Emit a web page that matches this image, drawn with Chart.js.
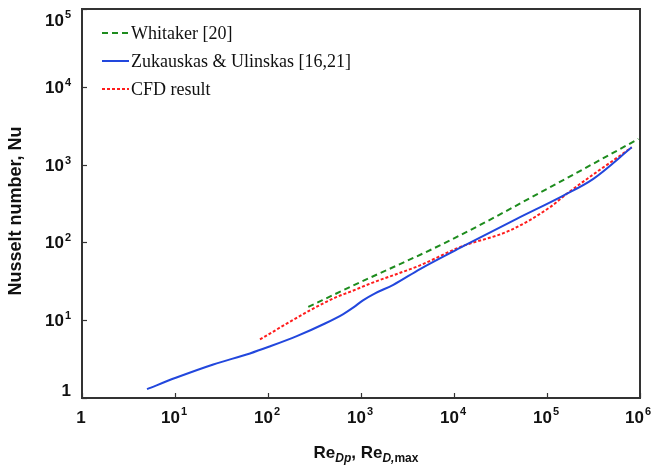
<!DOCTYPE html>
<html>
<head>
<meta charset="utf-8">
<script src="https://cdn.jsdelivr.net/npm/chart.js@4.4.1/dist/chart.umd.min.js"></script>
<style>
  body { margin: 0; background: #fff; }
  #wrap { width: 652px; height: 468px; }
</style>
</head>
<body>
<div id="wrap"><canvas id="nuChart"></canvas></div>
<script>
// values (log-log)
const whitakerRe = [271, 762, 9060, 108000, 960000];
const whitakerNu = [14.8, 26.7, 106, 512, 2135];

const zukRe = [5, 10.2, 25.8, 64, 102, 204, 410, 645, 830, 1050, 1400, 2225, 4310, 13700, 47200, 150000, 315000, 815000];
const zukNu = [1.3, 1.82, 2.7, 3.74, 4.55, 6.24, 9.07, 12.0, 14.6, 18.0, 22.0, 28.5, 45.5, 94.2, 201, 400, 656, 1667];

const cfdRe = [82, 283, 548, 762, 1250, 4310, 11600, 40000, 108000, 163000, 815000];
const cfdNu = [5.66, 13.4, 19.9, 23.1, 29.5, 50.7, 87.1, 142.6, 284, 421, 1667];

const seriesNames = ["Whitaker [20]", "Zukauskas & Ulinskas [16,21]", "CFD result"];

// tick labels: base and exponent ("" = plain "1")
const xTicks = [1, 10, 100, 1000, 10000, 100000, 1000000];
const xTickExp = ["", "1", "2", "3", "4", "5", "6"];
const yTicks = [1, 10, 100, 1000, 10000, 100000];
const yTickExp = ["", "1", "2", "3", "4", "5"];

const toPoints = (xs, ys) => xs.map((x, i) => ({ x: x, y: ys[i] }));

const bigFont = "bold 17px 'Liberation Sans', Arial, sans-serif";
const supFont = "bold 11px 'Liberation Sans', Arial, sans-serif";

function powerLabel(ctx, exp, x, y, align) {
  const base = exp === "" ? "1" : "10";
  ctx.font = bigFont;
  const wb = ctx.measureText(base).width;
  ctx.font = supFont;
  const we = exp === "" ? 0 : ctx.measureText(exp).width + 1;
  let left = align === "right" ? x - wb - we : x - (wb + we) / 2;
  ctx.textAlign = "left";
  ctx.textBaseline = "middle";
  ctx.font = bigFont;
  ctx.fillText(base, left, y);
  if (exp !== "") {
    ctx.font = supFont;
    ctx.fillText(exp, left + wb + 1, y - 6);
  }
}

// frame, inward ticks, tick labels, legend and axis titles
const extras = {
  id: "extras",
  afterDraw(chart) {
    const ctx = chart.ctx;
    const a = chart.chartArea;
    const sx = chart.scales.x, sy = chart.scales.y;
    ctx.save();
    ctx.strokeStyle = "#333";
    ctx.lineWidth = 2;
    ctx.strokeRect(a.left, a.top, a.right - a.left, a.bottom - a.top);
    ctx.lineWidth = 1.2;
    ctx.fillStyle = "#111";
    xTicks.forEach((v, i) => {
      const px = Math.round(sx.getPixelForValue(v)) + 0.5;
      ctx.beginPath(); ctx.moveTo(px, a.bottom); ctx.lineTo(px, a.bottom - 5); ctx.stroke();
      const lx = Math.min(px - 1.5, 638);
      powerLabel(ctx, xTickExp[i], lx, a.bottom + 20, "center");
    });
    yTicks.forEach((v, i) => {
      const py = Math.round(sy.getPixelForValue(v)) + 0.5;
      ctx.beginPath(); ctx.moveTo(a.left, py); ctx.lineTo(a.left + 5, py); ctx.stroke();
      const ly = Math.min(Math.max(py + 1, a.top + 12), a.bottom - 7);
      powerLabel(ctx, yTickExp[i], a.left - 11, ly, "right");
    });

    // legend
    ctx.font = "18px 'Liberation Serif', 'Times New Roman', serif";
    ctx.textAlign = "left";
    ctx.textBaseline = "middle";
    chart.data.datasets.forEach((ds, i) => {
      const y = 33 + i * 28;
      ctx.strokeStyle = ds.borderColor;
      ctx.lineWidth = ds.borderWidth;
      ctx.setLineDash(ds.borderDash || []);
      ctx.beginPath(); ctx.moveTo(102, y); ctx.lineTo(129, y); ctx.stroke();
      ctx.setLineDash([]);
      ctx.fillText(ds.label, 131, y + 1);
    });

    // y title
    ctx.save();
    ctx.translate(16, 211);
    ctx.rotate(-Math.PI / 2);
    ctx.font = "bold 18px 'Liberation Sans', Arial, sans-serif";
    ctx.textAlign = "center";
    ctx.textBaseline = "middle";
    ctx.fillText("Nusselt number, Nu", 0, 0);
    ctx.restore();

    // x title with subscripts
    const parts = [
      { t: "Re", f: "bold 17px 'Liberation Sans', Arial, sans-serif", dy: 0 },
      { t: "Dp", f: "italic bold 12px 'Liberation Sans', Arial, sans-serif", dy: 4 },
      { t: ", Re", f: "bold 17px 'Liberation Sans', Arial, sans-serif", dy: 0 },
      { t: "D,", f: "italic bold 12px 'Liberation Sans', Arial, sans-serif", dy: 4 },
      { t: "max", f: "bold 12px 'Liberation Sans', Arial, sans-serif", dy: 4 }
    ];
    let total = 0;
    parts.forEach(p => { ctx.font = p.f; p.w = ctx.measureText(p.t).width; total += p.w; });
    let x = 366 - total / 2;
    ctx.textAlign = "left";
    ctx.textBaseline = "alphabetic";
    parts.forEach(p => { ctx.font = p.f; ctx.fillText(p.t, x, 458 + p.dy); x += p.w; });
    ctx.restore();
  }
};

new Chart(document.getElementById("nuChart"), {
  type: "line",
  data: {
    datasets: [
      {
        label: seriesNames[0],
        data: toPoints(whitakerRe, whitakerNu),
        borderColor: "#1e8c1e",
        borderWidth: 2,
        borderDash: [6, 4],
        pointRadius: 0,
        cubicInterpolationMode: "monotone"
      },
      {
        label: seriesNames[1],
        data: toPoints(zukRe, zukNu),
        borderColor: "#2247dd",
        borderWidth: 2,
        pointRadius: 0,
        cubicInterpolationMode: "monotone"
      },
      {
        label: seriesNames[2],
        data: toPoints(cfdRe, cfdNu),
        borderColor: "#ff1c1c",
        borderWidth: 2,
        borderDash: [3, 2],
        pointRadius: 0,
        cubicInterpolationMode: "monotone"
      }
    ]
  },
  options: {
    responsive: true,
    maintainAspectRatio: false,
    animation: false,
    layout: { padding: { top: 9, right: 12, left: 0, bottom: 0 } },
    plugins: { legend: { display: false }, tooltip: { enabled: false } },
    scales: {
      x: {
        type: "logarithmic",
        min: 1,
        max: 1000000,
        afterBuildTicks: s => { s.ticks = xTicks.map(v => ({ value: v })); },
        afterFit: s => { s.height = 70; },
        grid: { display: false, drawTicks: false },
        border: { display: false },
        ticks: { display: false }
      },
      y: {
        type: "logarithmic",
        min: 1,
        max: 100000,
        afterBuildTicks: s => { s.ticks = yTicks.map(v => ({ value: v })); },
        afterFit: s => { s.width = 82; },
        grid: { display: false, drawTicks: false },
        border: { display: false },
        ticks: { display: false }
      }
    }
  },
  plugins: [extras]
});
</script>
</body>
</html>
